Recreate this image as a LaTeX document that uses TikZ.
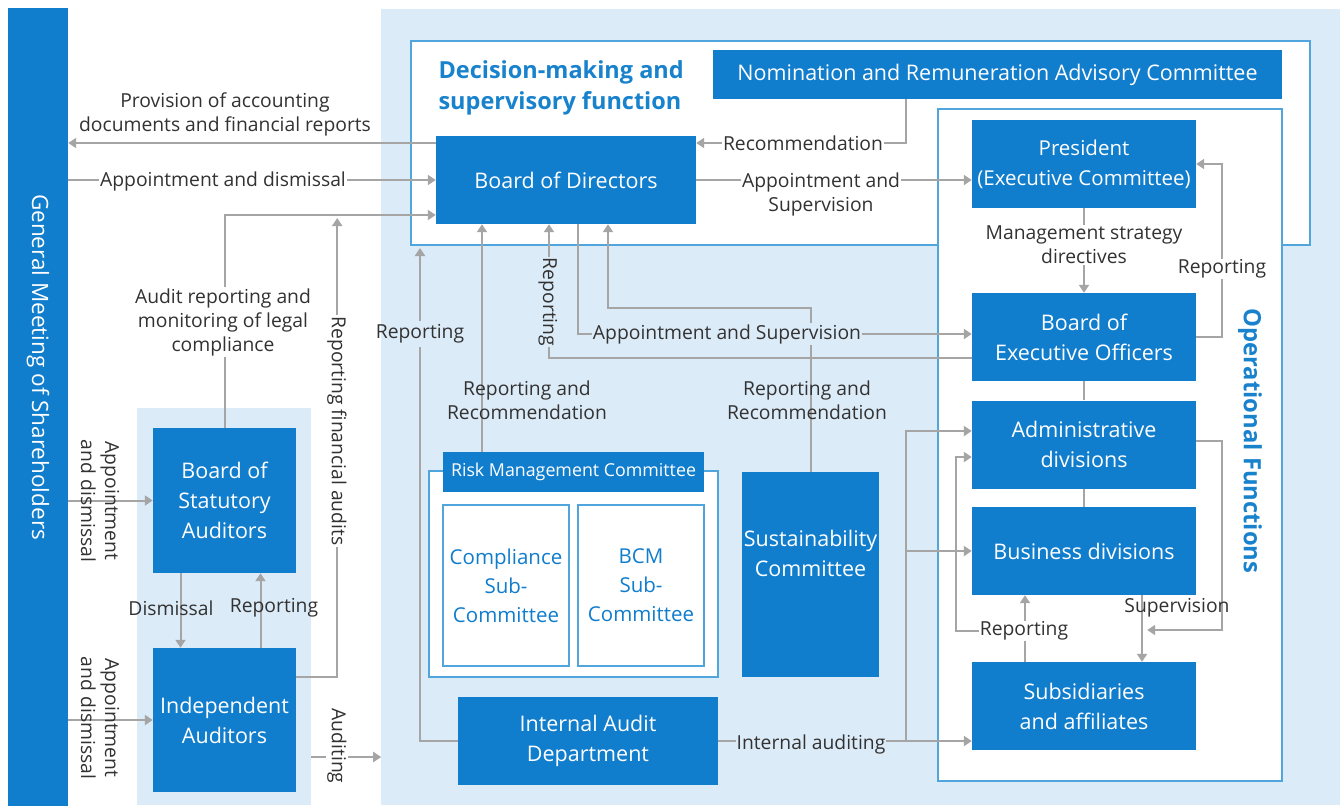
\documentclass[tikz,border=0pt]{standalone}
\usepackage{fontspec}
\setmainfont{Open Sans}
\usepackage{tikz}
\usepackage{xcolor}
\usetikzlibrary{arrows.meta}
\usetikzlibrary{math}

\definecolor{boxblue}{RGB}{16,125,205}
\definecolor{paleblue}{RGB}{220,235,248}
\definecolor{linegray}{RGB}{165,165,165}
\definecolor{frameblue}{RGB}{80,165,220}
\definecolor{titleblue}{RGB}{25,130,205}
\definecolor{labelgray}{RGB}{50,50,50}

\begin{document}
\begin{tikzpicture}[x=1pt,y=-1pt,
    bluebox/.style={fill=boxblue, text=white, align=center, inner sep=0pt,
        font=\fontsize{21.5}{30}\selectfont},
    subbox/.style={draw=frameblue, line width=1.2pt, fill=white, text=boxblue,
        align=center, inner sep=0pt, font=\fontsize{20.5}{29}\selectfont},
    frame/.style={draw=frameblue, line width=1.2pt, fill=white},
    link/.style={draw=linegray, line width=2pt},
    arr/.style={link, -{Triangle[width=10pt,length=8pt]}},
    lbl/.style={text=labelgray, align=center, inner sep=1pt,
        font=\fontsize{19.3}{24}\selectfont},
]
    \tikzmath{%
        \colx = 1084;   %% 右列方框的中心
        \opw = 224;     %% 右列方框的宽度
        \oph = 88;
    }
    %% 背景
    \fill[white] (0,0) rectangle (1340,805);
    \fill[paleblue] (381,9) rectangle (1340,805);
    \fill[paleblue] (137,408) rectangle (311,805);
    \node[fill=boxblue, inner sep=0pt, minimum width=60pt, minimum height=797pt] (gms) at (38,407) {};
    \node[rotate=-90, text=white, font=\fontsize{22.5}{26}\selectfont] (gmstext) at (38,367) {General Meeting of Shareholders};

    %% 外框
    \draw[frame] (411,41) rectangle (1310,245);
    \draw[frame] (938,109) rectangle (1282,781);
    \node[anchor=west, align=left, text=titleblue, font=\bfseries\fontsize{23.5}{31}\selectfont] (title) at (435,88) {Decision-making and\\supervisory function};
    \node[rotate=-90, text=titleblue, font=\bfseries\fontsize{23.8}{28}\selectfont] (optitle) at (1250,441) {Operational Functions};

    %% 方框
    \node[bluebox, minimum width=260pt, minimum height=88pt] (bod) at (566,180) {Board of Directors};
    \node[bluebox, minimum width=569pt, minimum height=49pt] (nom) at (997.5,74.5) {Nomination and Remuneration Advisory Committee};
    \node[bluebox, minimum width=\opw pt, minimum height=\oph pt, font=\fontsize{20.5}{30}\selectfont] (pres) at (\colx,164) {President\\(Executive Committee)};
    \node[bluebox, minimum width=\opw pt, minimum height=\oph pt] (beo) at (\colx,337) {Board of\\Executive Officers};
    \node[bluebox, minimum width=\opw pt, minimum height=\oph pt] (adm) at (\colx,444.5) {Administrative\\divisions};
    \node[bluebox, minimum width=\opw pt, minimum height=\oph pt] (bus) at (\colx,551) {Business divisions};
    \node[bluebox, minimum width=\opw pt, minimum height=\oph pt] (sub) at (\colx,706) {Subsidiaries\\and affiliates};
    \node[bluebox, minimum width=143pt, minimum height=145pt] (bosa) at (224.5,500.5) {Board of\\Statutory\\Auditors};
    \node[bluebox, minimum width=143pt, minimum height=144pt] (indep) at (224.5,720) {Independent\\Auditors};
    \node[frame, minimum width=289pt, minimum height=206pt] (risk) at (573.5,574) {};
    \node[bluebox, minimum width=261pt, minimum height=40pt, font=\fontsize{17.8}{20}\selectfont] (riskhead) at (573.5,472) {Risk Management Committee};
    \node[subbox, minimum width=126pt, minimum height=161pt] (comp) at (506,585.5) {Compliance\\Sub-\\Committee};
    \node[subbox, minimum width=126pt, minimum height=161pt] (bcm) at (641,585.5) {BCM\\Sub-\\Committee};
    \node[bluebox, minimum width=137pt, minimum height=205pt] (sust) at (810.5,574.5) {Sustainability\\Committee\\[12pt]};
    \node[bluebox, minimum width=260pt, minimum height=88pt] (iad) at (588,741) {Internal Audit\\Department};

    %% 股东大会
    \coordinate (bodP) at ([yshift=37pt]bod.west);
    \coordinate (bodQ) at ([yshift=-35pt]bod.west);
    \draw[arr] (bodP) -- (bodP -| gms.east);
    \draw[arr] (gms.east |- bod.west) -- (bod.west);
    \draw[arr] (gms.east |- bosa.west) -- (bosa.west);
    \draw[arr] (gms.east |- indep.west) -- (indep.west);
    \draw[arr] (bosa.north) |- (bodQ);
    \draw[arr] ([yshift=43pt]indep.east) -- ++(41,0) -- ++(0,-459);
    \draw[arr, shorten <=15pt] ([yshift=-37pt]indep.east) -- ++(85,0);
    \draw[arr] ([xshift=-44pt]bosa.south) -- ([xshift=-44pt]indep.north);
    \draw[arr] ([xshift=36pt]indep.north) -- ([xshift=36pt]bosa.south);

    \node[lbl] (l1) at (225,114) {Provision of accounting\\documents and financial reports};
    \node[lbl, fill=white] (l2) at (223,181) {Appointment and dismissal};
    \node[lbl, fill=white] (l3) at (223,322) {Audit reporting and\\monitoring of legal\\compliance};
    \node[lbl, fill=white, rotate=-90] (l4) at (337,431) {Reporting financial audits};
    \node[lbl, fill=white, rotate=-90] (l5) at (337,746) {Auditing};
    \node[lbl, rotate=-90] (l6) at (100,501) {Appointment\\and dismissal};
    \node[lbl, rotate=-90] (l7) at (100,718) {Appointment\\and dismissal};
    \node[lbl] (l8) at (171,608) {Dismissal};
    \node[lbl] (l9) at (274,608) {Reporting};

    %% 董事会
    \draw[arr] (iad.west) -| (420,248);
    \fill[paleblue] (410,321) rectangle (430,347);  %% 线在文字后面断开
    \draw[arr] ([xshift=-91.5pt]riskhead.north) -- ([xshift=-91.5pt]riskhead.north |- bod.south);
    \draw[arr] ([yshift=-21pt]beo.west) -| ([xshift=-17pt]bod.south);
    \draw[arr] ([xshift=12pt]bod.south) |- ([yshift=3pt]beo.west);
    \draw[arr] (sust.north) -- ++(0,-164) -| ([xshift=42pt]bod.south);
    \draw[arr] ([xshift=-92pt]nom.south) |- ([yshift=37pt]bod.east);
    \draw[arr] (bod.east) -- (bod.east -| pres.west);

    \node[lbl] (l10) at (420,334) {Reporting};
    \node[lbl] (l11) at (527,400) {Reporting and\\Recommendation};
    \node[lbl, fill=paleblue, rotate=-90] (l12) at (548,302) {Reporting};
    \node[lbl, fill=paleblue] (l13) at (727,334) {Appointment and Supervision};
    \node[lbl] (l14) at (807,400) {Reporting and\\Recommendation};
    \node[lbl, fill=white] (l15) at (803,143) {Recommendation};
    \node[lbl, fill=white] (l16) at (821,194) {Appointment and\\Supervision};

    %% 执行部门
    \draw[arr] (pres.south) -- (beo.north);
    \draw[arr] (beo.east) -- ++(26,0) |- (pres.east);
    \draw[link] (beo.south) -- (adm.north);
    \draw[link] (adm.south) -- (bus.north);
    \draw[arr] (iad.east) -- (iad.east -| sub.west);
    \draw[arr] (iad.east) ++(188,0) |- ([yshift=13.5pt]adm.west);
    \draw[arr] (iad.east) ++(188,0) |- (bus.west);
    \draw[arr] ([xshift=-59pt]sub.north) -- ([xshift=-59pt]bus.south);
    \draw[arr] ([xshift=-59pt]sub.north) ++(0,-31) -- ++(-69,0) |- ([yshift=-12.5pt]adm.west);
    \draw[arr] ([yshift=3.5pt]adm.east) -- ++(26,0) -- ++(0,189) -- ++(-75,0);
    \draw[arr] ([xshift=58pt]bus.south) -- ([xshift=58pt]sub.north);

    \node[lbl, fill=white] (l17) at (\colx,245) {Management strategy\\directives};
    \node[lbl, fill=white] (l18) at (1222,269) {Reporting};
    \node[lbl, fill=paleblue] (l19) at (811,744) {Internal auditing};
    \node[lbl, fill=white] (l20) at (1024,631) {Reporting};
    \node[lbl] (l21) at (1177,608) {Supervision};
\end{tikzpicture}
\end{document}
